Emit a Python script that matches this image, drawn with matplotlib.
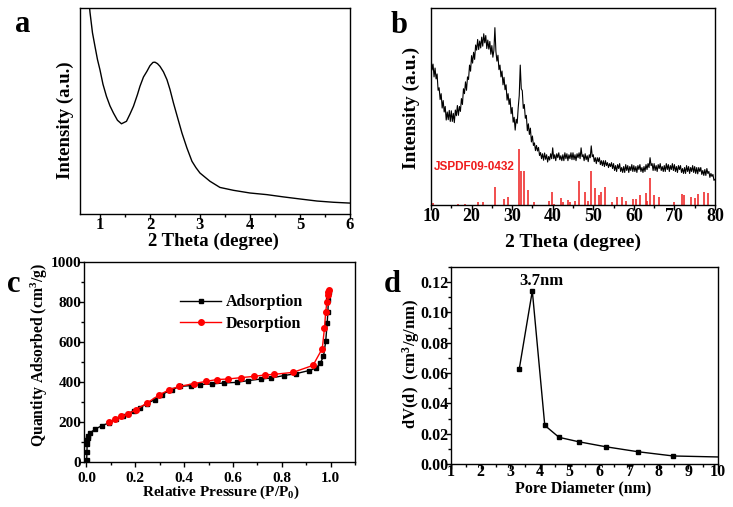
import numpy as np
import matplotlib
matplotlib.use("Agg")
import matplotlib.pyplot as plt
from matplotlib.ticker import MultipleLocator

plt.rcParams["font.family"] = ["Liberation Serif", "DejaVu Serif"]
plt.rcParams["font.weight"] = "bold"
plt.rcParams["axes.labelweight"] = "bold"
plt.rcParams["mathtext.fontset"] = "custom"
plt.rcParams["mathtext.rm"] = "Liberation Serif:bold"
plt.rcParams["mathtext.it"] = "Liberation Serif:bold"
plt.rcParams["mathtext.bf"] = "Liberation Serif:bold"

# (a) small-angle XRD, normalised intensity
a_theta = [0.75, 0.8, 0.85, 0.9, 0.95, 1.0, 1.06, 1.13, 1.2, 1.27, 1.35, 1.43, 1.53,
           1.6, 1.67, 1.75, 1.8, 1.87, 1.94, 2.0, 2.06, 2.1, 2.15, 2.2, 2.27, 2.34,
           2.4, 2.47, 2.55, 2.64, 2.74, 2.84, 2.92, 3.0, 3.2, 3.4, 3.67, 4.0, 4.34,
           4.67, 5.0, 5.34, 5.67, 6.0]
a_int = [1.12, 0.98, 0.88, 0.814, 0.75, 0.70, 0.63, 0.571, 0.525, 0.49, 0.455, 0.438,
         0.45, 0.485, 0.523, 0.58, 0.62, 0.665, 0.693, 0.72, 0.736, 0.737, 0.73,
         0.717, 0.69, 0.652, 0.605, 0.539, 0.47, 0.393, 0.32, 0.256, 0.225, 0.199,
         0.159, 0.129, 0.115, 0.102, 0.094, 0.083, 0.073, 0.063, 0.057, 0.053]

# (b) wide-angle XRD, 0.25 degree steps from 10 to 80
b_theta = np.arange(10, 80.01, 0.25)
b_int = [0.75, 0.685, 0.715, 0.65, 0.695, 0.64, 0.665, 0.582, 0.595, 0.535,
         0.565, 0.492, 0.53, 0.472, 0.50, 0.431, 0.472, 0.433, 0.48, 0.424,
         0.478, 0.424, 0.465, 0.418, 0.482, 0.453, 0.505, 0.455, 0.50, 0.475,
         0.54, 0.51, 0.59, 0.565, 0.625, 0.582, 0.65, 0.637, 0.71, 0.679,
         0.758, 0.72, 0.775, 0.739, 0.812, 0.786, 0.84, 0.789, 0.832, 0.797,
         0.852, 0.806, 0.869, 0.823, 0.86, 0.794, 0.837, 0.791, 0.83, 0.765,
         0.809, 0.75, 0.785, 0.90, 0.779, 0.73, 0.76, 0.687, 0.71, 0.65,
         0.68, 0.61, 0.648, 0.585, 0.61, 0.532, 0.565, 0.51, 0.54, 0.463,
         0.495, 0.42, 0.445, 0.38, 0.435, 0.415, 0.495, 0.555, 0.71, 0.59,
         0.58, 0.49, 0.51, 0.44, 0.455, 0.377, 0.412, 0.358, 0.39, 0.32,
         0.35, 0.302, 0.315, 0.276, 0.302, 0.274, 0.292, 0.251, 0.266, 0.235,
         0.26, 0.227, 0.264, 0.232, 0.255, 0.218, 0.246, 0.228, 0.26, 0.235,
         0.29, 0.235, 0.255, 0.225, 0.26, 0.24, 0.265, 0.23, 0.25, 0.225,
         0.255, 0.225, 0.265, 0.235, 0.26, 0.225, 0.255, 0.235, 0.265, 0.23,
         0.265, 0.23, 0.255, 0.225, 0.26, 0.24, 0.265, 0.235, 0.29, 0.245,
         0.255, 0.225, 0.26, 0.23, 0.25, 0.22, 0.255, 0.24, 0.30, 0.245,
         0.255, 0.22, 0.24, 0.21, 0.24, 0.22, 0.24, 0.205, 0.225, 0.20,
         0.225, 0.195, 0.225, 0.20, 0.215, 0.19, 0.21, 0.195, 0.215, 0.185,
         0.21, 0.175, 0.20, 0.17, 0.205, 0.185, 0.21, 0.17, 0.19, 0.165,
         0.195, 0.165, 0.205, 0.175, 0.20, 0.165, 0.195, 0.175, 0.205, 0.17,
         0.20, 0.17, 0.195, 0.165, 0.20, 0.18, 0.205, 0.17, 0.19, 0.165,
         0.195, 0.17, 0.205, 0.18, 0.21, 0.19, 0.24, 0.20, 0.21, 0.175,
         0.21, 0.175, 0.20, 0.17, 0.205, 0.185, 0.21, 0.175, 0.195, 0.17,
         0.20, 0.17, 0.21, 0.18, 0.205, 0.17, 0.20, 0.18, 0.21, 0.175,
         0.205, 0.17, 0.195, 0.165, 0.20, 0.18, 0.20, 0.165, 0.185, 0.16,
         0.19, 0.16, 0.20, 0.17, 0.195, 0.16, 0.19, 0.17, 0.20, 0.165,
         0.195, 0.16, 0.19, 0.158, 0.19, 0.17, 0.19, 0.155, 0.175, 0.15,
         0.18, 0.15, 0.185, 0.16, 0.17, 0.14, 0.16, 0.145, 0.155, 0.125,
         0.13]

# JSPDF 09-0432 reference lines (relative intensity)
ref_pos = [10.5, 16.7, 18.5, 21.7, 22.7, 25.8, 28.0, 28.9, 31.8, 32.2, 32.9, 34.0,
           35.5, 39.2, 39.9, 40.4, 42.1, 42.5, 43.7, 44.2, 45.4, 46.6, 47.9, 48.6,
           49.4, 50.5, 51.4, 52.0, 53.0, 54.5, 55.9, 57.0, 58.0, 59.9, 60.5, 61.5,
           62.9, 63.3, 64.0, 65.0, 66.3, 69.8, 71.9, 72.4, 74.1, 75.2, 75.8, 77.3, 78.3]
ref_int = [3, 2, 1, 6, 6, 32, 10, 15, 100, 60, 60, 26, 6, 8, 24, 2, 12, 5, 9, 5, 7,
           42, 23, 8, 60, 30, 18, 24, 32, 6, 15, 14, 7, 10, 10, 18, 21, 8, 49, 18,
           15, 5, 20, 17, 14, 12, 20, 24, 21]

# (c) N2 isotherm
ads_p = [0.001, 0.002, 0.003, 0.004, 0.005, 0.008, 0.014, 0.037, 0.064, 0.091, 0.12,
         0.15, 0.17, 0.193, 0.22, 0.248, 0.28, 0.309, 0.35, 0.384, 0.43, 0.465, 0.513,
         0.563, 0.615, 0.663, 0.717, 0.758, 0.808, 0.86, 0.911, 0.942, 0.958, 0.971,
         0.980, 0.986, 0.989, 0.991, 0.992]
ads_q = [10, 50, 90, 112, 122, 132, 145, 165, 182, 195, 215, 230, 240, 257, 272, 292,
         312, 337, 362, 378, 382, 387, 390, 395, 398, 407, 415, 420, 432, 442, 457, 470,
         495, 528, 603, 693, 752, 810, 852]
des_p = [0.091, 0.118, 0.142, 0.169, 0.204, 0.248, 0.298, 0.340, 0.381, 0.441, 0.490,
         0.533, 0.581, 0.635, 0.686, 0.731, 0.767, 0.846, 0.928, 0.966, 0.975, 0.980,
         0.985, 0.988, 0.990, 0.992]
des_q = [200, 215, 228, 240, 262, 295, 335, 362, 378, 392, 403, 412, 415, 422, 428,
         435, 438, 448, 483, 567, 670, 750, 800, 835, 850, 860]

# (d) pore size distribution
pore_d = [3.30, 3.74, 4.16, 4.64, 5.30, 6.21, 7.30, 8.49, 10.8]
pore_dv = [0.0627, 0.1142, 0.0255, 0.0176, 0.0147, 0.0114, 0.0081, 0.0053, 0.0043]

fig = plt.figure(figsize=(7.33, 5.07), dpi=100)
ax_a = fig.add_axes([0.1091, 0.5779, 0.3683, 0.4063])
ax_b = fig.add_axes([0.5880, 0.5957, 0.3874, 0.3886])
ax_c = fig.add_axes([0.1146, 0.0888, 0.3697, 0.3945])
ax_d = fig.add_axes([0.6153, 0.0848, 0.3643, 0.3886])

for ax in (ax_a, ax_b, ax_c, ax_d):
    for s in ax.spines.values():
        s.set_linewidth(1.0)
    ax.tick_params(which="both", direction="out", width=1.0, top=False, right=False)
    ax.tick_params(which="major", length=3.5)
    ax.tick_params(which="minor", length=2)

# a
ax_a.plot(a_theta, a_int, color="black", lw=1.0)
ax_a.set_xlim(0.6, 6)
ax_a.set_ylim(0, 1)
ax_a.set_yticks([])
ax_a.xaxis.set_major_locator(MultipleLocator(1))
ax_a.xaxis.set_minor_locator(MultipleLocator(0.5))
ax_a.tick_params(axis="x", labelsize=12, pad=-1)
ax_a.set_xlabel("2 Theta (degree)", fontsize=13.5, va="center")
ax_a.xaxis.set_label_coords(0.493, -0.131)
ax_a.set_ylabel("Intensity (a.u.)", fontsize=13.5, va="center")
ax_a.yaxis.set_label_coords(-0.056, 0.456)

# b
ax_b.plot(b_theta, b_int, color="black", lw=0.8)
ax_b.vlines(ref_pos, 0, np.array(ref_int) * 0.00284, color="#ee1c1c", lw=1.1)
ax_b.text(10.8, 0.194, "JSPDF09-0432", color="#ee1c1c", fontsize=8.5,
          family="Liberation Sans", weight="bold", va="center")
ax_b.set_xlim(10, 80)
ax_b.set_ylim(0, 1)
ax_b.set_yticks([])
ax_b.xaxis.set_major_locator(MultipleLocator(10))
ax_b.xaxis.set_minor_locator(MultipleLocator(5))
ax_b.tick_params(axis="x", labelsize=13, pad=-1)
ax_b.set_xlabel("2 Theta (degree)", fontsize=14, va="center")
ax_b.xaxis.set_label_coords(0.5, -0.188)
ax_b.set_ylabel("Intensity (a.u.)", fontsize=14, va="center")
ax_b.yaxis.set_label_coords(-0.07, 0.492)

# c
ax_c.plot(ads_p, ads_q, color="black", marker="s", ms=3.5, lw=1.0, label="Adsorption")
ax_c.plot(des_p, des_q, color="red", marker="o", ms=4, lw=1.0, label="Desorption")
ax_c.set_xlim(-0.01, 1.1)
ax_c.set_ylim(0, 1000)
ax_c.xaxis.set_major_locator(MultipleLocator(0.2))
ax_c.xaxis.set_minor_locator(MultipleLocator(0.1))
ax_c.yaxis.set_major_locator(MultipleLocator(200))
ax_c.yaxis.set_minor_locator(MultipleLocator(100))
ax_c.xaxis.set_major_formatter(plt.FormatStrFormatter("%.1f"))
ax_c.tick_params(labelsize=11)
ax_c.tick_params(axis="y", pad=-1.5)
ax_c.set_xlabel("Relative Pressure (P/P$_0$)", fontsize=11, va="center")
ax_c.xaxis.set_label_coords(0.505, -0.15)
ax_c.set_ylabel("Quantity Adsorbed (cm$^3$/g)", fontsize=11.3, va="center")
ax_c.yaxis.set_label_coords(-0.166, 0.535)
ax_c.legend(loc="upper left", bbox_to_anchor=(0.33, 0.87), frameon=False,
            fontsize=11.5, handlelength=2.6, handletextpad=0.3, labelspacing=0.35,
            borderaxespad=0)

# d
ax_d.plot(pore_d, pore_dv, color="black", marker="s", ms=3.5, lw=1.0)
ax_d.text(4.03, 0.1205, "3.7nm", fontsize=12, ha="center", va="center")
ax_d.set_xlim(1, 10)
ax_d.set_ylim(0, 0.13)
ax_d.xaxis.set_major_locator(MultipleLocator(1))
ax_d.xaxis.set_minor_locator(MultipleLocator(0.5))
ax_d.yaxis.set_major_locator(MultipleLocator(0.02))
ax_d.yaxis.set_minor_locator(MultipleLocator(0.01))
ax_d.yaxis.set_major_formatter(plt.FormatStrFormatter("%.2f"))
ax_d.tick_params(labelsize=11.5)
ax_d.tick_params(axis="x", pad=-3.5)
ax_d.tick_params(axis="y", pad=-1.5)
ax_d.set_xlabel("Pore Diameter (nm)", fontsize=11.5, va="center")
ax_d.xaxis.set_label_coords(0.494, -0.122)
ax_d.set_ylabel("dV(d)  (cm$^3$/g/nm)", fontsize=12, va="center")
ax_d.yaxis.set_label_coords(-0.15, 0.508)

# panel letters
for lab, x, y in [("a", 15, 32), ("b", 391, 33), ("c", 7, 292), ("d", 384, 292)]:
    fig.text(x / 733, 1 - y / 507, lab, fontsize=22, weight="bold", va="baseline")

fig.savefig("out.png", dpi=100)
